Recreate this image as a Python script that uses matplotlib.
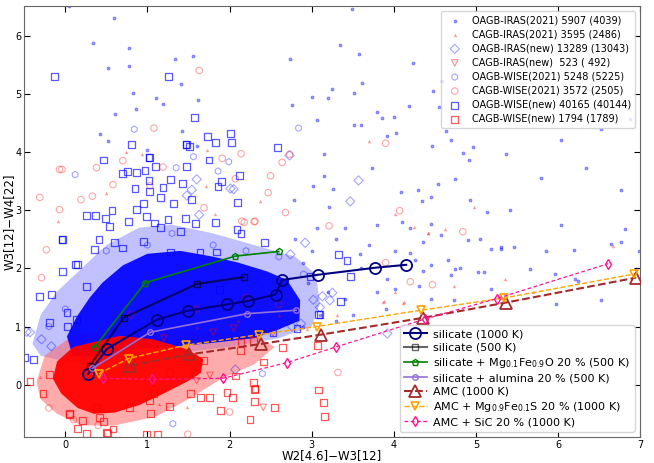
import numpy as np
import matplotlib
matplotlib.use("Agg")
import matplotlib.pyplot as plt
from matplotlib.patches import Polygon

# ---- model tracks ----
sil1000_x = [0.28, 0.51, 1.12, 1.49, 1.97, 2.23, 2.56, 2.64, 3.08, 3.77, 4.15]
sil1000_y = [0.19, 0.62, 1.12, 1.27, 1.38, 1.44, 1.55, 1.80, 1.89, 2.01, 2.06]
sil500_x = [0.30, 0.71, 1.60, 2.17]
sil500_y = [0.33, 1.15, 1.73, 1.85]
silfeo_x = [0.36, 0.97, 2.07, 2.60]
silfeo_y = [0.65, 1.75, 2.21, 2.29]
silalu_x = [0.33, 1.03, 2.21, 2.81]
silalu_y = [0.28, 0.90, 1.22, 1.28]
amc_x = [0.79, 1.51, 2.38, 3.11, 4.36, 5.36, 6.95]
amc_y = [0.33, 0.52, 0.70, 0.86, 1.15, 1.41, 1.84]
amcfes_x = [0.41, 0.77, 1.47, 2.36, 3.06, 4.33, 5.34, 6.92]
amcfes_y = [0.19, 0.45, 0.68, 0.86, 1.00, 1.28, 1.49, 1.90]
amcsic_x = [0.46, 1.05, 1.92, 2.70, 3.30, 4.38, 5.25, 6.61]
amcsic_y = [0.11, 0.09, 0.11, 0.38, 0.65, 1.13, 1.48, 2.08]

# ---- dense cores of the samples (outlines) ----
blue_halo_x = [-0.40, -0.30, -0.10, 0.20, 0.50, 0.90, 1.30, 1.80, 2.30, 2.80, 3.05, 3.10, 3.00, 2.60, 2.00, 1.40, 0.90, 0.40, 0.00, -0.30]
blue_halo_y = [0.70, 1.20, 1.60, 2.00, 2.40, 2.70, 2.75, 2.60, 2.40, 2.20, 1.90, 1.40, 1.00, 0.80, 0.65, 0.55, 0.45, 0.35, 0.40, 0.50]
blue_core_x = [0.02, 0.14, 0.30, 0.45, 0.70, 1.00, 1.40, 1.80, 2.10, 2.45, 2.70, 2.86, 2.85, 2.60, 2.30, 1.80, 1.30, 0.83, 0.42, 0.09]
blue_core_y = [0.83, 1.17, 1.50, 1.75, 2.05, 2.25, 2.30, 2.20, 2.10, 1.95, 1.80, 1.45, 1.10, 0.95, 0.80, 0.72, 0.65, 0.62, 0.49, 0.49]
red_halo_x = [-0.35, -0.25, 0.10, 0.60, 1.20, 1.80, 2.30, 2.55, 2.30, 1.90, 1.50, 1.10, 0.60, 0.20, -0.10, -0.30]
red_halo_y = [0.05, 0.50, 0.85, 0.95, 0.95, 0.90, 0.85, 0.65, 0.35, 0.10, -0.25, -0.55, -0.70, -0.70, -0.50, -0.25]
red_core_x = [-0.15, -0.10, 0.10, 0.40, 0.66, 1.07, 1.48, 1.68, 1.65, 1.48, 1.20, 0.90, 0.60, 0.35, 0.15, -0.05]
red_core_y = [0.10, 0.40, 0.65, 0.75, 0.84, 0.78, 0.61, 0.44, 0.20, 0.05, -0.15, -0.35, -0.48, -0.50, -0.40, -0.15]

# ---- individual sources outside the cores ----
oi21_x = [0.04, 0.59, 0.34, 0.78, 0.52, 0.78, 1.33, 1.56, 1.41, 0.82, 1.10, 1.19, 1.62, 0.86, 0.61, 0.42, 0.52, 1.42, 1.00, 1.60,
          3.49, 3.34, 3.58, 4.23, 2.74, 3.61, 3.25, 3.00, 3.20, 3.52, 4.59, 4.48, 2.76, 4.18, 4.55, 3.80, 3.85, 4.00, 3.07, 3.51,
          3.60, 3.92, 4.03, 4.63, 4.70, 4.46, 3.15, 4.96, 4.84, 4.92, 3.73, 3.15, 3.02, 3.26, 4.54, 4.75, 2.78, 4.30, 4.09, 4.34,
          4.45, 3.21, 5.14, 3.07, 3.79, 4.10, 4.45, 4.20, 5.36, 5.79, 6.34, 6.76, 4.93, 6.03, 6.64, 5.30, 4.69, 5.66, 6.21, 6.95,
          5.05, 4.57, 6.52, 5.97, 5.18, 4.26, 4.02, 3.59, 3.41, 4.45, 4.75, 6.82, 5.42, 6.88, 6.52, 6.03, 4.36, 4.90, 5.18, 5.30,
          5.46, 5.85, 6.19, 6.76, 6.98, 4.81, 5.02, 5.10, 5.96, 6.24, 4.66, 4.35, 4.45, 4.73, 4.31, 3.92, 4.02, 4.20, 2.90, 3.00,
          3.30, 3.50, 3.60, 3.20, 2.90, 3.80, 3.40, 3.90, 2.80, 3.10, 3.70, 3.30, 2.95]
oi21_y = [6.50, 6.31, 5.88, 5.78, 5.44, 5.48, 5.60, 5.65, 5.16, 5.01, 4.92, 4.83, 4.90, 4.74, 4.66, 4.30, 4.18, 4.36, 4.03, 4.10,
          6.45, 5.83, 5.69, 5.53, 5.59, 5.18, 5.09, 4.95, 4.92, 5.02, 5.22, 5.04, 4.81, 4.79, 4.77, 4.69, 4.59, 4.60, 4.55, 4.47,
          4.46, 4.28, 4.32, 4.36, 4.20, 4.10, 3.96, 4.08, 3.99, 3.87, 3.73, 3.59, 3.41, 3.37, 3.45, 3.54, 3.18, 3.35, 3.32, 3.16,
          3.22, 3.06, 2.97, 2.69, 2.74, 2.79, 2.76, 2.70, 3.96, 3.56, 3.73, 3.35, 3.18, 2.75, 2.41, 2.33, 1.89, 1.98, 1.81, 1.98,
          2.50, 2.58, 1.46, 1.38, 1.64, 2.15, 1.64, 2.24, 1.47, 1.47, 1.98, 2.67, 3.01, 4.56, 4.39, 4.21, 2.46, 2.48, 2.33, 2.36,
          2.36, 2.29, 2.32, 2.46, 2.29, 2.00, 1.94, 1.94, 1.91, 1.78, 2.15, 1.96, 2.05, 1.45, 1.69, 1.81, 2.29, 2.27, 1.00, 2.30,
          2.50, 1.20, 2.00, 1.60, 2.10, 1.60, 2.70, 1.30, 2.50, 1.20, 2.40, 1.10, 1.75]
ci21_x = [3.70, 4.02, 4.25, 4.41, 4.97, 4.62, 6.67, 5.35, 4.73, 4.02, 3.87, 4.12, 5.69, 0.74, 0.93, 1.72, 1.71, 0.49, 2.37, 1.82,
          4.42, 3.88, 4.11, 3.31, 2.94, -0.09, -0.31, 1.14, 1.48, 2.10, 2.60, 1.60]
ci21_y = [4.19, 2.94, 2.71, 2.61, 3.06, 2.68, 2.39, 1.81, 1.69, 1.59, 1.42, 1.42, 1.59, 4.00, 3.96, 4.03, 3.42, 3.30, 3.16, 2.93,
          2.61, 1.43, 1.41, 1.19, 0.95, 2.81, 0.14, -0.33, -0.39, 1.10, 1.20, 1.00]
oinew_x = [3.57, 3.47, 1.60, 1.48, 1.63, 2.01, 2.73, 2.74, 1.54, 3.25, 3.22, 3.10, 2.87, 3.92, 2.07, 3.02, -0.43, -0.47, 2.05, -0.29,
           -0.17, 2.76, 3.13, 2.92]
oinew_y = [3.51, 3.15, 3.53, 3.25, 2.92, 3.37, 3.94, 2.24, 3.35, 1.58, 1.45, 1.33, 1.05, 0.88, 0.26, 1.46, 0.90, 0.91, 3.36, 0.78,
           0.66, 1.00, 1.52, 2.44]
cinew_x = [1.55, 1.76, 1.60, 2.41, 1.56, 2.05, 2.53, 0.90, 1.20, 1.80]
cinew_y = [0.21, 0.16, 0.07, -0.39, 0.48, 0.97, 0.89, 0.70, 0.80, 0.90]
ow21_x = [0.84, 1.56, 1.35, 1.86, 1.99, 2.84, 0.12, 1.31, 2.40, 2.60, 2.20, 2.90, 0.00, -0.20, 2.30, 1.80, 1.30, 1.00, 0.50]
ow21_y = [4.39, 3.92, 3.73, 3.67, 3.83, 4.41, 3.61, -0.67, 0.19, 2.20, 2.30, 1.90, 1.30, 1.00, 1.80, 2.40, 2.60, 2.40, 2.30]
cw21_x = [1.08, 1.63, 0.70, 0.38, 0.58, 0.33, 0.19, -0.04, 1.91, 2.14, 2.47, 2.50, 2.68, 2.73, 2.64, 2.07, 1.69, 2.30, 2.18, 1.19,
          1.03, 3.90, 4.07, 3.21, 4.84, 4.20, 3.90, 4.12, 3.32, 4.47, 2.00, 1.49, -0.07, -0.31, -0.07, -0.29, -0.23, 2.60, 2.15, 2.31,
          0.10, 0.40, -0.20, 0.80, 1.60, 2.20]
cw21_y = [4.41, 5.40, 3.85, 3.73, 3.44, 3.24, 3.18, 3.70, 3.89, 3.97, 3.30, 3.59, 2.96, 3.96, 3.82, 3.54, 3.04, 2.80, 2.79, 3.74,
          3.42, 4.15, 2.99, 2.73, 2.63, 1.77, 2.10, 0.19, 0.21, 1.72, -0.47, -0.85, 3.70, 3.22, 3.01, 1.84, 2.32, 1.38, 2.81, 2.81,
          -0.60, -0.70, -0.40, 1.20, 1.30, 1.50]
ownew_x = [-0.13, 1.26, 1.57, 0.81, 1.48, 1.51, 1.03, 0.47, 2.01, 1.73, 1.83, 2.02, 2.58, 1.47, 1.02, 1.75, 1.48, 1.10, 0.97, 0.76,
           0.70, 0.87, 2.12, 1.02, 1.28, 1.43, 1.90, 1.86, 0.85, 1.03, 1.19, 2.10, 1.54, 1.32, 1.16, 0.95, 0.87, 0.26, 0.37, 0.49,
           0.57, 0.77, 0.99, 1.09, 1.25, 1.16, 1.40, 1.46, 1.59, 1.83, 2.14, 2.09, 2.43, 0.54, 0.41, 0.60, 0.70, 0.95, -0.03, 0.36,
           1.64, 1.84, 1.28, 0.14, -0.31, -0.17, -0.49, -0.39, 0.12, 0.15, -0.04, -0.03, 0.26, 0.02, -0.19, 0.03, 3.10, 2.98, 1.88,
           3.33, 3.43, 3.47, 3.35, 3.08, 2.82, 2.53]
ownew_y = [5.30, 5.30, 4.59, 4.13, 4.13, 4.09, 3.91, 3.86, 4.32, 4.26, 4.16, 4.16, 4.07, 4.13, 3.91, 3.86, 3.75, 3.75, 3.68, 3.66,
           3.63, 3.65, 3.60, 3.51, 3.53, 3.46, 3.49, 3.41, 3.37, 3.32, 3.39, 3.13, 3.18, 3.11, 3.22, 3.11, 3.01, 2.91, 2.91, 2.85,
           2.99, 2.80, 2.89, 2.78, 2.84, 2.70, 2.63, 2.86, 2.77, 2.79, 2.60, 2.67, 2.44, 2.72, 2.49, 2.44, 2.35, 2.46, 2.49, 2.32,
           2.28, 2.28, 2.28, 1.12, 1.52, 1.55, 0.47, 0.43, 2.07, 2.07, 2.49, 1.94, 1.69, 1.24, 1.07, 1.00, 1.21, 1.86, 1.64,
           2.24, 2.13, 1.86, 1.43, 1.21, 0.97, 0.90]
cwnew_x = [-0.43, -0.27, -0.19, 0.05, 0.21, 0.26, 0.15, 0.51, 0.58, 0.42, 0.47, 0.38, 0.78, 1.04, 1.12, 1.27, 1.03, 1.08, 1.52, 1.65,
           1.89, 1.97, 2.25, 2.30, 2.30, 2.55, 2.41, 3.08, 3.14, 3.16, 1.27, 1.68, 2.64, 2.13, 2.07, 0.99, 0.50, 2.29, 2.31, 2.14,
           2.29, 3.07, 1.76, 2.04, 0.05]
cwnew_y = [0.05, -0.15, 0.18, -0.49, -0.61, -0.84, -0.75, -0.84, -0.76, -0.56, -0.63, -0.39, -0.39, -0.49, -0.86, -0.37, -0.28, -0.15, -0.15, -0.22,
           -0.44, -0.13, -0.60, -0.08, -0.29, -0.39, 0.39, -0.09, -0.30, -0.54, 0.21, 0.42, 0.64, 0.59, 0.15, -0.85, -0.82, 0.04, -0.06, 0.72,
           0.76, 0.67, -0.22, -0.22, -0.51]

fig, ax = plt.subplots(figsize=(6.54, 4.63), dpi=100)
fig.subplots_adjust(left=0.037, right=0.979, top=0.986, bottom=0.056)

# dense parts of the distributions
ax.add_patch(Polygon(np.column_stack([blue_halo_x, blue_halo_y]), closed=True,
                     facecolor=(0.4, 0.4, 1.0), edgecolor="none", alpha=0.4, zorder=1))
ax.add_patch(Polygon(np.column_stack([red_halo_x, red_halo_y]), closed=True,
                     facecolor=(1.0, 0.35, 0.35), edgecolor="none", alpha=0.5, zorder=1))
ax.add_patch(Polygon(np.column_stack([blue_core_x, blue_core_y]), closed=True,
                     facecolor=(0.0, 0.0, 1.0), edgecolor="none", alpha=0.92, zorder=1))
ax.add_patch(Polygon(np.column_stack([red_core_x, red_core_y]), closed=True,
                     facecolor=(1.0, 0.0, 0.0), edgecolor="none", alpha=0.95, zorder=1))

# samples
ax.scatter(oi21_x, oi21_y, s=5, marker="o", color="blue", alpha=0.4, linewidths=0.5,
           label="OAGB-IRAS(2021) 5907 (4039)", zorder=2)
ax.scatter(ci21_x, ci21_y, s=6, marker="^", color="red", alpha=0.4, linewidths=0,
           label="CAGB-IRAS(2021) 3595 (2486)", zorder=2)
ax.scatter(oinew_x, oinew_y, s=22, marker="D", facecolors="none", edgecolors="blue", alpha=0.35,
           linewidths=0.8, label="OAGB-IRAS(new) 13289 (13043)", zorder=2)
ax.scatter(cinew_x, cinew_y, s=22, marker="v", facecolors="none", edgecolors="red", alpha=0.45,
           linewidths=0.8, label="CAGB-IRAS(new)  523 ( 492)", zorder=2)
ax.scatter(ow21_x, ow21_y, s=22, marker="h", facecolors="none", edgecolors="blue", alpha=0.35,
           linewidths=0.8, label="OAGB-WISE(2021) 5248 (5225)", zorder=2)
ax.scatter(cw21_x, cw21_y, s=22, marker="o", facecolors="none", edgecolors="red", alpha=0.35,
           linewidths=0.8, label="CAGB-WISE(2021) 3572 (2505)", zorder=2)
ax.scatter(ownew_x, ownew_y, s=24, marker="s", facecolors="none", edgecolors="blue", alpha=0.65,
           linewidths=0.9, label="OAGB-WISE(new) 40165 (40144)", zorder=2)
ax.scatter(cwnew_x, cwnew_y, s=24, marker="s", facecolors="none", edgecolors="red", alpha=0.65,
           linewidths=0.9, label="CAGB-WISE(new) 1794 (1789)", zorder=2)

leg1 = ax.legend(loc="upper right", fontsize=7, handletextpad=0.8,
                 borderpad=0.4, labelspacing=0.42, framealpha=0.8)
ax.add_artist(leg1)

# model tracks
h = []
h += ax.plot(sil1000_x, sil1000_y, "-", color="navy", lw=1.5, marker="o", ms=8, mfc="none", mew=1.3,
             label="silicate (1000 K)", zorder=5)
h += ax.plot(sil500_x, sil500_y, "-", color="black", alpha=0.6, lw=1.5, marker="s", ms=4, mfc="none",
             label="silicate (500 K)", zorder=5)
h += ax.plot(silfeo_x, silfeo_y, "-", color="green", lw=1.2, marker="p", ms=5, mfc="none",
             label=r"silicate + Mg$_{0.1}$Fe$_{0.9}$O 20 % (500 K)", zorder=5)
h += ax.plot(silalu_x, silalu_y, "-", color="mediumpurple", lw=1.2, marker="o", ms=4, mfc="none",
             label="silicate + alumina 20 % (500 K)", zorder=5)
h += ax.plot(amc_x, amc_y, "--", color="brown", lw=1.5, marker="^", ms=9, mfc="none", mew=1.3,
             label="AMC (1000 K)", zorder=5)
h += ax.plot(amcfes_x, amcfes_y, "--", color="orange", lw=1.0, marker="v", ms=6, mfc="none", mew=1.2,
             label=r"AMC + Mg$_{0.9}$Fe$_{0.1}$S 20 % (1000 K)", zorder=5)
h += ax.plot(amcsic_x, amcsic_y, "--", color="deeppink", lw=0.9, marker="d", ms=5, mfc="none",
             dashes=(3, 2), label="AMC + SiC 20 % (1000 K)", zorder=5)
ax.legend(handles=h, loc="lower right", fontsize=8, handlelength=2.0, handletextpad=0.6,
          borderpad=0.4, labelspacing=0.3, framealpha=0.8)

ax.set_xlim(-0.5, 7)
ax.set_ylim(-0.9, 6.5)
ax.set_xticks(range(0, 8))
ax.tick_params(direction="in", top=True, right=True, labelsize=7, length=4, pad=2)
ax.set_xlabel("W2[4.6]\u2212W3[12]", fontsize=8.5)
ax.set_ylabel("W3[12]\u2212W4[22]", fontsize=8.5)
# label anchors are the edges nearest the axes
ax.xaxis.set_label_coords(0.5, -0.027)
ax.yaxis.set_label_coords(-0.0145, 0.5)
for s in ax.spines.values():
    s.set_color("0.4")

fig.savefig("out.png", dpi=100)
